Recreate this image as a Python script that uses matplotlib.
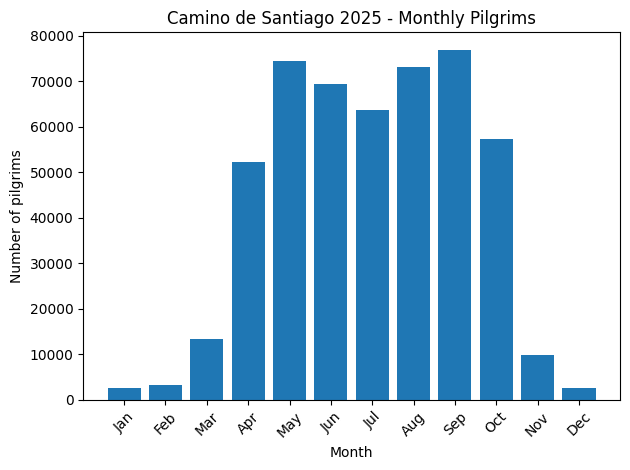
import matplotlib
matplotlib.use("Agg")
import matplotlib.pyplot as plt

# dados mensais
months = ["Jan", "Feb", "Mar", "Apr", "May", "Jun", "Jul", "Aug", "Sep", "Oct", "Nov", "Dec"]
pilgrims = [2650, 3300, 13400, 52300, 74500, 69400, 63700, 73200, 76900, 57400, 9900, 2650]

fig, ax = plt.subplots(figsize=(6.3, 4.7), dpi=100)
ax.bar(months, pilgrims, color="#1f77b4")

ax.set_xlabel("Month")
ax.set_ylabel("Number of pilgrims")
ax.set_title("Camino de Santiago 2025 - Monthly Pilgrims")
plt.xticks(rotation=45)

fig.subplots_adjust(left=0.132, right=0.984, top=0.931, bottom=0.149)
plt.savefig("out.png")
